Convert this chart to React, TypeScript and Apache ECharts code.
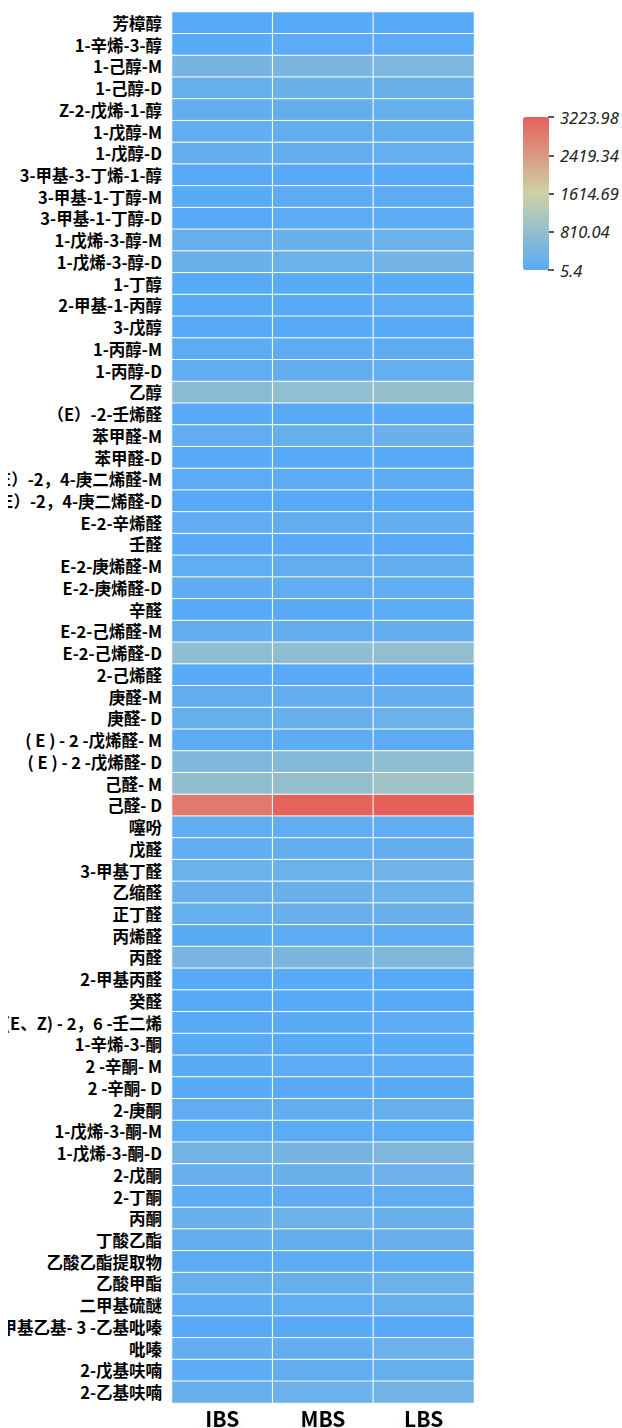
import React, { useEffect, useRef } from "react";
import * as echarts from "echarts";

const compounds = [
  "芳樟醇",
  "1-辛烯-3-醇",
  "1-己醇-M",
  "1-己醇-D",
  "Z-2-戊烯-1-醇",
  "1-戊醇-M",
  "1-戊醇-D",
  "3-甲基-3-丁烯-1-醇",
  "3-甲基-1-丁醇-M",
  "3-甲基-1-丁醇-D",
  "1-戊烯-3-醇-M",
  "1-戊烯-3-醇-D",
  "1-丁醇",
  "2-甲基-1-丙醇",
  "3-戊醇",
  "1-丙醇-M",
  "1-丙醇-D",
  "乙醇",
  "（E）-2-壬烯醛",
  "苯甲醛-M",
  "苯甲醛-D",
  "（E，E）-2，4-庚二烯醛-M",
  "（E，E）-2，4-庚二烯醛-D",
  "E-2-辛烯醛",
  "壬醛",
  "E-2-庚烯醛-M",
  "E-2-庚烯醛-D",
  "辛醛",
  "E-2-己烯醛-M",
  "E-2-己烯醛-D",
  "2-己烯醛",
  "庚醛-M",
  "庚醛- D",
  "( E ) - 2 -戊烯醛- M",
  "( E ) - 2 -戊烯醛- D",
  "己醛- M",
  "己醛- D",
  "噻吩",
  "戊醛",
  "3-甲基丁醛",
  "乙缩醛",
  "正丁醛",
  "丙烯醛",
  "丙醛",
  "2-甲基丙醛",
  "癸醛",
  "(E、Z) - 2，6 -壬二烯",
  "1-辛烯-3-酮",
  "2 -辛酮- M",
  "2 -辛酮- D",
  "2-庚酮",
  "1-戊烯-3-酮-M",
  "1-戊烯-3-酮-D",
  "2-戊酮",
  "2-丁酮",
  "丙酮",
  "丁酸乙酯",
  "乙酸乙酯提取物",
  "乙酸甲酯",
  "二甲基硫醚",
  "2-甲基乙基- 3 -乙基吡嗪",
  "吡嗪",
  "2-戊基呋喃",
  "2-乙基呋喃",
];

const groups = ["IBS", "MBS", "LBS"];

const ibsValues = [
  20, 30, 420, 200, 160, 150, 160, 20, 30, 20, 200, 250, 20, 25, 20, 80, 130, 700,
  15, 110, 15, 60, 10, 130, 10, 120, 100, 20, 150, 760, 15, 140, 200, 60, 550, 780,
  2840, 110, 150, 270, 230, 200, 30, 450, 10, 20, 20, 20, 30, 15, 120, 40, 380, 220,
  70, 250, 160, 60, 200, 90, 5.4, 150, 90, 200,
];

const mbsValues = [
  15, 40, 470, 250, 180, 170, 170, 25, 80, 50, 250, 290, 30, 25, 20, 90, 170, 790,
  20, 200, 20, 70, 10, 140, 15, 140, 110, 30, 160, 770, 20, 150, 210, 70, 620, 830,
  3180, 120, 160, 280, 250, 220, 40, 500, 15, 25, 30, 25, 60, 25, 150, 50, 420, 260,
  100, 270, 180, 70, 230, 110, 10, 170, 150, 270,
];

const lbsValues = [
  25, 50, 520, 260, 190, 180, 190, 20, 100, 70, 270, 370, 30, 40, 15, 100, 190, 860,
  20, 260, 20, 100, 10, 150, 10, 150, 120, 40, 170, 830, 20, 170, 270, 80, 760, 980,
  3223.98, 140, 180, 350, 270, 250, 70, 560, 20, 25, 40, 30, 70, 20, 200, 50, 540, 300,
  120, 230, 220, 80, 280, 200, 5.4, 280, 200, 360,
];

const scaleTicks = ["5.4", "810.04", "1614.69", "2419.34", "3223.98"];
const scaleMin = 5.4;
const scaleMax = 3223.98;
const scaleColors = ["#58aaf7", "#cdd2a6", "#e5605a"];

export default function App() {
  const ref = useRef<HTMLDivElement>(null);

  useEffect(() => {
    document.body.style.margin = "0";
    if (!ref.current) return;
    const chart = echarts.init(ref.current, null, { renderer: "svg" });
    const seriesData: any[] = [];
    const columns = [ibsValues, mbsValues, lbsValues];
    compounds.forEach((_, i) => {
      columns.forEach((col, g) => {
        seriesData.push([g, i, col[i]]);
      });
    });

    const cjk = '"Noto Sans CJK SC", "Microsoft YaHei", sans-serif';

    chart.setOption({
      animation: false,
      backgroundColor: "#ffffff",
      grid: [
        { left: 164, top: 4, width: 302, height: 1391, outerBoundsMode: "none", containLabel: false },
        { left: 540, top: 109, width: 1, height: 153, outerBoundsMode: "none", containLabel: false },
      ],
      xAxis: [
        {
          type: "category",
          gridIndex: 0,
          data: groups,
          position: "bottom",
          axisLine: { show: false },
          axisTick: { show: false },
          splitLine: { show: false },
          axisLabel: {
            color: "#000",
            fontSize: 21,
            fontWeight: "bold",
            fontFamily: cjk,
            margin: 4,
            textShadowColor: "rgba(0,0,0,0.12)",
            textShadowBlur: 10,
            textShadowOffsetY: 8,
          },
        },
        { type: "value", gridIndex: 1, show: false },
      ],
      yAxis: [
        {
          type: "category",
          gridIndex: 0,
          data: compounds,
          inverse: true,
          axisLine: { show: false },
          axisTick: { show: false },
          splitLine: { show: false },
          axisLabel: {
            interval: 0,
            color: "#000",
            fontSize: 16.5,
            fontWeight: "bold",
            fontFamily: cjk,
            margin: 10,
          },
        },
        {
          type: "category",
          gridIndex: 1,
          data: scaleTicks,
          position: "right",
          boundaryGap: false,
          axisLine: { show: false },
          axisTick: {
            show: true,
            length: 6,
            lineStyle: { color: "#222", width: 1.5 },
          },
          splitLine: { show: false },
          axisLabel: {
            interval: 0,
            color: "#222",
            fontSize: 16.5,
            fontStyle: "italic",
            fontFamily: '"Noto Sans", "Open Sans", sans-serif',
            margin: 11,
          },
        },
      ],
      visualMap: {
        type: "continuous",
        seriesIndex: 0,
        min: scaleMin,
        max: scaleMax,
        calculable: false,
        orient: "vertical",
        left: 515,
        top: 109,
        itemWidth: 26,
        itemHeight: 153,
        padding: 0,
        inRange: { color: scaleColors },
        textStyle: { color: "transparent" },
      },
      series: [
        {
          type: "heatmap",
          xAxisIndex: 0,
          yAxisIndex: 0,
          data: seriesData,
          itemStyle: { borderColor: "#ffffff", borderWidth: 1 },
          label: { show: false },
          emphasis: { disabled: true },
        },
      ],
    });

    return () => chart.dispose();
  }, []);

  return (
    <div
      ref={ref}
      style={{ width: 614, height: 1420, marginLeft: 8, marginTop: 8 }}
    />
  );
}
